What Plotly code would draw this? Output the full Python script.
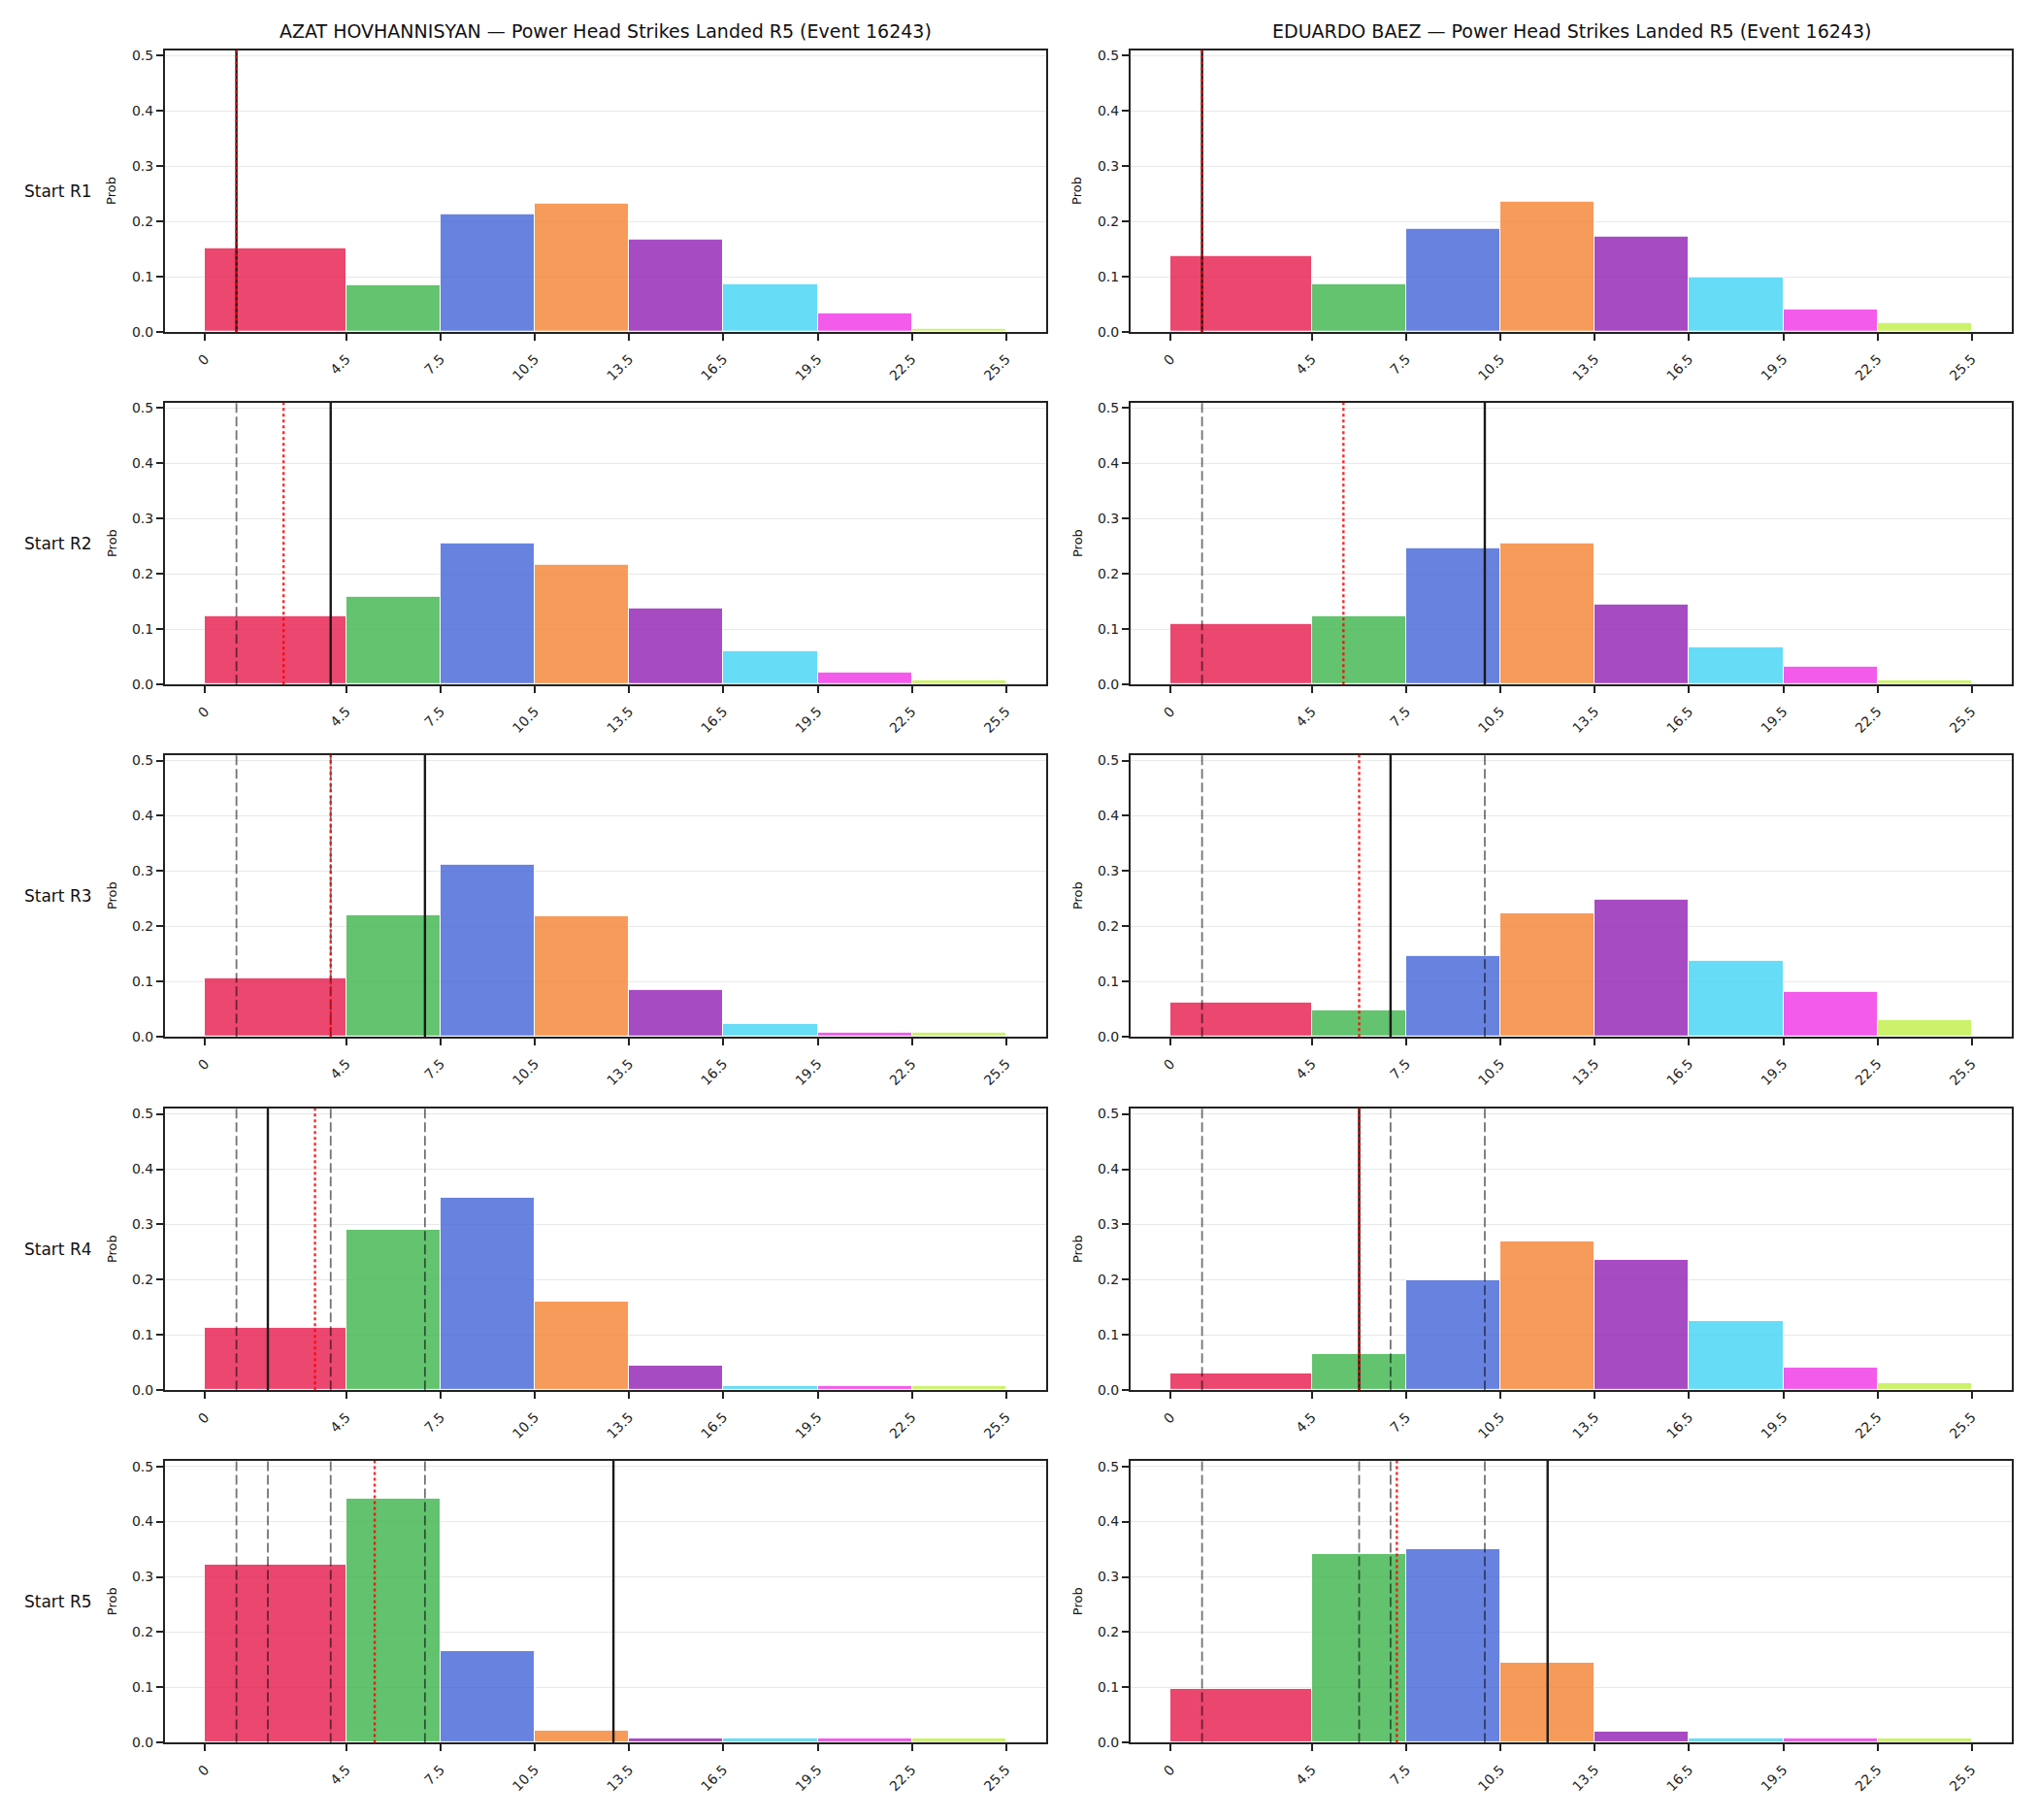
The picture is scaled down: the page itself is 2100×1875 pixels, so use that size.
import plotly.graph_objects as go

W, H = 2100, 1875

# ---------------- data ----------------
bin_edges = [0, 4.5, 7.5, 10.5, 13.5, 16.5, 19.5, 22.5, 25.5]
tick_labels = ["0", "4.5", "7.5", "10.5", "13.5", "16.5", "19.5", "22.5", "25.5"]
bin_colors = ["#e6194b", "#3cb44b", "#4363d8", "#f58231",
              "#911eb4", "#42d4f4", "#f032e6", "#bfef45"]

players = ["AZAT HOVHANNISYAN", "EDUARDO BAEZ"]
row_labels = ["Start R1", "Start R2", "Start R3", "Start R4", "Start R5"]
title_suffix = " \u2014 Power Head Strikes Landed R5 (Event 16243)"

azat_probs = [
    [0.151, 0.085, 0.214, 0.233, 0.167, 0.087, 0.034, 0.006],
    [0.123, 0.159, 0.256, 0.216, 0.138, 0.061, 0.021, 0.008],
    [0.107, 0.220, 0.311, 0.218, 0.085, 0.023, 0.008, 0.008],
    [0.114, 0.290, 0.348, 0.161, 0.044, 0.008, 0.008, 0.008],
    [0.322, 0.442, 0.165, 0.022, 0.008, 0.008, 0.008, 0.008],
]
baez_probs = [
    [0.137, 0.086, 0.187, 0.236, 0.173, 0.099, 0.041, 0.016],
    [0.109, 0.123, 0.246, 0.255, 0.145, 0.067, 0.032, 0.008],
    [0.063, 0.048, 0.147, 0.223, 0.249, 0.138, 0.081, 0.030],
    [0.030, 0.065, 0.200, 0.270, 0.236, 0.125, 0.042, 0.013],
    [0.098, 0.342, 0.351, 0.145, 0.020, 0.008, 0.008, 0.008],
]
# actual strikes landed per round (solid = current round, dashed = earlier rounds)
azat_actual = [1, 4, 7, 2, 13]
baez_actual = [1, 10, 7, 6, 12]
# running average marker (red dotted)
azat_avg = [1, 2.5, 4, 3.5, 5.4]
baez_avg = [1, 5.5, 6, 6, 7.2]

all_probs = [azat_probs, baez_probs]
all_actual = [azat_actual, baez_actual]
all_avg = [azat_avg, baez_avg]

# ---------------- layout geometry (pixels) ----------------
col_x = [(170, 1078), (1165, 2073)]
row_top = [50, 415, 780, 1146, 1511]
ax_h = 292
font_family = "DejaVu Sans, Arial, sans-serif"


def px_x(p):
    return p / W


def px_y(p):
    return 1 - p / H


centers = [(bin_edges[i] + bin_edges[i + 1]) / 2 for i in range(len(bin_edges) - 1)]
widths = [bin_edges[i + 1] - bin_edges[i] for i in range(len(bin_edges) - 1)]

fig = go.Figure()
shapes = []
annotations = []
layout_axes = {}

for r in range(5):
    for c in range(2):
        idx = r * 2 + c + 1
        xa = "x" if idx == 1 else f"x{idx}"
        ya = "y" if idx == 1 else f"y{idx}"
        xkey = "xaxis" if idx == 1 else f"xaxis{idx}"
        ykey = "yaxis" if idx == 1 else f"yaxis{idx}"

        fig.add_trace(go.Bar(
            x=centers, y=all_probs[c][r], width=widths,
            marker=dict(color=bin_colors, line=dict(color="white", width=1)),
            opacity=0.8, xaxis=xa, yaxis=ya, showlegend=False,
        ))

        x0, x1 = col_x[c]
        top = row_top[r]
        bot = top + ax_h
        layout_axes[xkey] = dict(
            domain=[px_x(x0), px_x(x1)], anchor=ya,
            range=[-1.275, 26.775], tickmode="array",
            tickvals=bin_edges, ticktext=tick_labels, tickangle=-45,
            ticks="outside", ticklen=7, tickwidth=1.5, tickcolor="#222",
            ticklabelstandoff=5,
            showgrid=False, zeroline=False,
            showline=True, linecolor="#222", linewidth=2, mirror=True,
            tickfont=dict(family=font_family, size=14, color="#222"),
        )
        layout_axes[ykey] = dict(
            domain=[px_y(bot), px_y(top)], anchor=xa,
            range=[0, 0.51], tickmode="array",
            tickvals=[0, 0.1, 0.2, 0.3, 0.4, 0.5], tickformat=".1f",
            ticks="outside", ticklen=7, tickwidth=1.5, tickcolor="#222",
            showgrid=True, gridcolor="#e8e8e8", gridwidth=1.2, zeroline=False,
            showline=True, linecolor="#222", linewidth=2, mirror=True,
            tickfont=dict(family=font_family, size=14, color="#222"),
        )

        # dashed lines for previous rounds
        for k in range(r):
            shapes.append(dict(
                type="line", xref=xa, yref=f"{ya} domain",
                x0=all_actual[c][k], x1=all_actual[c][k], y0=0, y1=1,
                line=dict(color="rgba(0,0,0,0.55)", width=1.8, dash="10px,4px"),
            ))
        # current round solid
        shapes.append(dict(
            type="line", xref=xa, yref=f"{ya} domain",
            x0=all_actual[c][r], x1=all_actual[c][r], y0=0, y1=1,
            line=dict(color="#1a1a1a", width=2.4),
        ))
        # running average dotted red
        shapes.append(dict(
            type="line", xref=xa, yref=f"{ya} domain",
            x0=all_avg[c][r], x1=all_avg[c][r], y0=0, y1=1,
            line=dict(color="rgba(255,0,0,0.85)", width=2.4, dash="3px,3px"),
        ))

        # "Prob" y label
        annotations.append(dict(
            text="Prob", textangle=-90, xref="paper", yref="paper",
            x=px_x(x0 - 55), y=px_y(top + ax_h / 2),
            showarrow=False, xanchor="center", yanchor="middle",
            font=dict(family=font_family, size=13, color="#111"),
        ))

        if c == 0:
            annotations.append(dict(
                text=row_labels[r], xref="paper", yref="paper",
                x=px_x(23), y=px_y(top + ax_h / 2),
                showarrow=False, xanchor="left", yanchor="middle",
                font=dict(family=font_family, size=17, color="#111"),
            ))

for c in range(2):
    x0, x1 = col_x[c]
    annotations.append(dict(
        text=players[c] + title_suffix, xref="paper", yref="paper",
        x=px_x((x0 + x1) / 2), y=px_y(30),
        showarrow=False, xanchor="center", yanchor="middle",
        font=dict(family=font_family, size=19, color="#111"),
    ))

fig.update_layout(
    width=W, height=H, autosize=False,
    margin=dict(l=0, r=0, t=0, b=0),
    paper_bgcolor="white", plot_bgcolor="white",
    bargap=0, shapes=shapes, annotations=annotations,
    font=dict(family=font_family),
    **layout_axes,
)

fig.write_html("out.html")
